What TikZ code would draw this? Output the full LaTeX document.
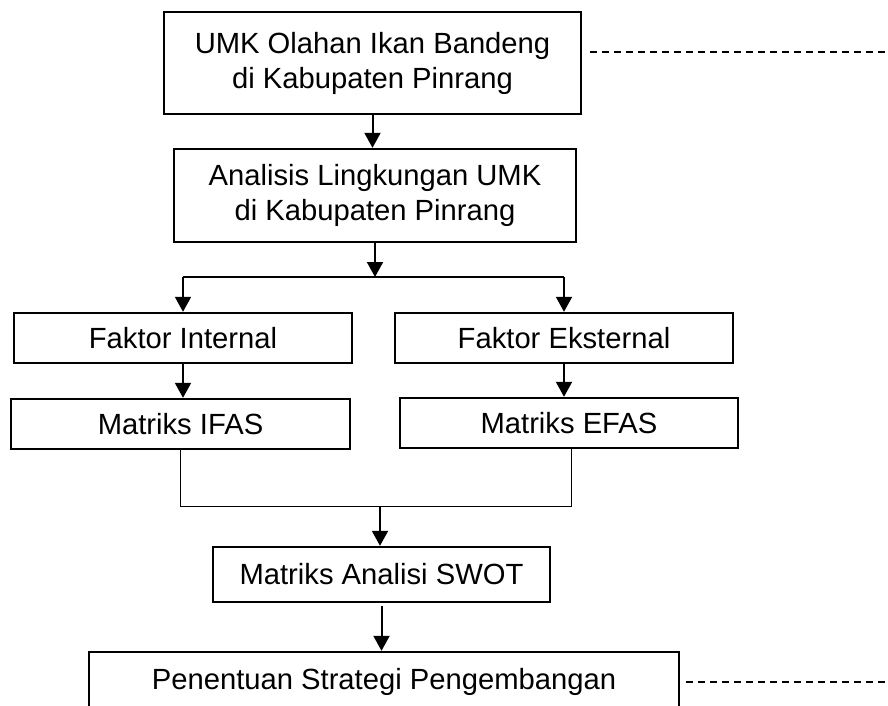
\documentclass[tikz,border=0pt]{standalone}
\usepackage{fontspec}
\setmainfont{Liberation Sans}
\usetikzlibrary{calc,positioning}
\usetikzlibrary{arrows.meta}

\begin{document}
\begin{tikzpicture}[x=0.5pt,y=-0.5pt,
  box/.style={draw,line width=1.2pt,inner sep=0pt,align=center,font=\fontsize{14.6}{17.5}\selectfont},
  arr/.style={-{Triangle[length=7.5pt,width=8pt]},line width=1pt},
  thin/.style={line width=0.5pt},
  dashline/.style={line width=0.7pt,dash pattern=on 3.5pt off 2.5pt}]
\clip (0,0) rectangle (888,706);
\node[box,minimum width=208.5pt,minimum height=51pt] (umk) at (372.5,63) {UMK Olahan Ikan Bandeng\\di Kabupaten Pinrang};
\node[box,minimum width=201pt,minimum height=46.5pt] (analisis) at (375,195.5) {Analisis Lingkungan UMK\\di Kabupaten Pinrang};
\node[box,minimum width=169pt,minimum height=25pt] (internal) at (183,338) {Faktor Internal};
\node[box,minimum width=169pt,minimum height=25pt] (eksternal) at (564,338) {Faktor Eksternal};
\node[box,minimum width=169.5pt,minimum height=25pt] (ifas) at (180.5,424) {Matriks IFAS};
\node[box,minimum width=169pt,minimum height=25pt] (efas) at (569,423) {Matriks EFAS};
\node[box,minimum width=168.5pt,minimum height=27.5pt] (swot) at (381.5,574.5) {Matriks Analisi SWOT};
\node[box,minimum width=295pt,minimum height=30pt] (strategi) at (384,682) {Penentuan Strategi Pengembangan};
% cabang ke faktor
\coordinate (cabang) at (375,277);
\coordinate (gabung) at (380,506);
\draw[arr] (umk.south) -- (umk.south |- analisis.north);
\draw[arr] (analisis.south) -- (cabang);
\draw[line width=1pt] (internal.north |- cabang) -- (eksternal.north |- cabang);
\draw[arr] (internal.north |- cabang) -- (internal.north);
\draw[arr] (eksternal.north |- cabang) -- (eksternal.north);
\draw[arr] (internal.south) -- (internal.south |- ifas.north);
\draw[arr] (eksternal.south) -- (eksternal.south |- efas.north);
% gabung ke SWOT
\draw[thin] (ifas.south) -- (ifas.south |- gabung) -- ([xshift=1pt]efas.south |- gabung) -- ([xshift=1pt]efas.south);
\draw[arr] (gabung) -- (gabung |- swot.north);
\draw[arr] ([yshift=-1.5pt]swot.south) -- (swot.south |- strategi.north);
% garis putus-putus
\coordinate (umkujung) at (888,52);
\coordinate (strategiujung) at (888,682);
\draw[dashline] ([xshift=4pt]umk.east |- umkujung) -- (umkujung);
\draw[dashline] ([xshift=3pt]strategi.east) -- (strategiujung);
\end{tikzpicture}
\end{document}
